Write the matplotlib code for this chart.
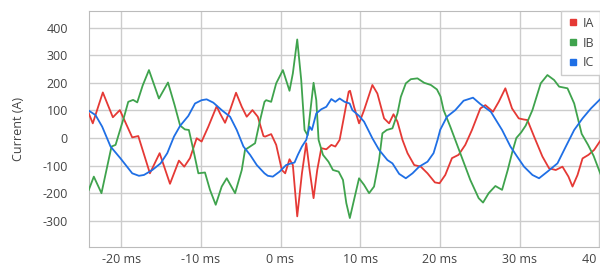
import numpy as np
import matplotlib
matplotlib.use("Agg")
import matplotlib.pyplot as plt
from matplotlib.lines import Line2D

plt.rcParams['font.family'] = ['Open Sans', 'DejaVu Sans']

# IA
t_a = [-24.06, -23.56, -22.30, -21.04, -20.16, -18.61, -17.85, -16.39, -15.17, -13.87,
       -12.75, -12.08, -11.36, -10.52, -9.90, -9.06, -8.01, -7.59, -6.96, -6.33,
       -5.58, -4.86, -4.24, -3.52, -2.85, -2.14, -1.93, -1.17, -0.54, 0.17,
       0.59, 1.13, 1.55, 2.10, 2.69, 3.23, 3.65, 4.15, 4.61, 5.12,
       5.75, 6.38, 6.88, 7.42, 7.97, 8.56, 8.73, 9.23, 9.86, 10.49,
       11.53, 12.16, 13.00, 13.63, 14.18, 14.68, 15.31, 15.94, 16.78, 17.61,
       18.45, 19.38, 19.96, 20.68, 21.52, 22.35, 23.19, 24.03, 25.08, 25.71,
       26.67, 27.39, 28.22, 29.06, 29.90, 30.53, 30.99, 31.83, 32.87, 33.71,
       34.55, 35.39, 36.14, 36.65, 37.28, 37.91, 38.66, 39.37, 40.21]
ia = [89, 53, 165, 75, 101, 2, 7, -128, -55, -166,
      -82, -104, -73, -1, -13, 41, 115, 89, 55, 101,
      164, 113, 77, 101, 77, 7, 5, 14, -25, -116,
      -128, -77, -98, -284, -128, -19, -116, -218, -116, -37,
      -41, -25, -31, -7, 77, 168, 171, 113, 53, 101,
      192, 161, 71, 53, 86, 59, -7, -55, -98, -104,
      -128, -161, -164, -134, -73, -61, -25, 29, 107, 119,
      95, 131, 180, 107, 71, 67, 65, 5, -67, -110,
      -116, -104, -140, -176, -134, -74, -61, -43, -7]

# IB
t_b = [-24.06, -23.43, -22.47, -21.21, -20.70, -19.60, -19.11, -18.50, -17.98, -17.30,
       -16.51, -15.26, -14.12, -13.30, -12.60, -12.00, -11.50, -10.94, -10.31, -9.48,
       -8.85, -8.13, -7.38, -6.75, -5.70, -4.86, -4.45, -3.82, -3.19, -2.56,
       -2.01, -1.80, -1.17, -0.54, 0.30, 1.13, 1.55, 2.10, 2.60, 3.02,
       3.40, 4.15, 4.49, 4.78, 5.33, 6.02, 6.58, 7.30, 7.84, 8.26,
       8.70, 9.23, 9.86, 10.49, 11.12, 11.74, 12.37, 12.79, 13.34, 14.05,
       14.68, 15.10, 15.73, 16.36, 17.19, 18.03, 18.87, 19.63, 20.09, 20.47,
       21.31, 22.56, 23.82, 24.87, 25.42, 26.13, 26.97, 27.81, 28.52, 29.10,
       29.60, 30.20, 30.78, 31.62, 32.66, 33.50, 34.34, 34.97, 36.02, 36.86,
       37.80, 38.60, 39.30, 40.21]
ib = [-188, -140, -200, -31, -25, 80, 131, 138, 129, 190,
      246, 143, 201, 120, 45, 31, 29, -43, -128, -125,
      -188, -242, -176, -146, -200, -116, -43, -31, -19, 65,
      131, 137, 131, 198, 246, 171, 234, 357, 210, 29,
      10, 200, 137, -7, -61, -86, -116, -122, -152, -236,
      -290, -224, -146, -170, -200, -176, -80, 17, 29, 35,
      89, 149, 198, 213, 216, 200, 192, 176, 150, 101,
      41, -55, -152, -218, -234, -200, -174, -188, -116, -50,
      0, 20, 45, 101, 198, 228, 210, 186, 180, 125,
      15, -25, -65, -134]

# IC
t_c = [-24.06, -23.22, -22.38, -21.33, -20.08, -18.61, -17.77, -17.14, -16.09, -15.05,
       -14.21, -13.37, -12.60, -11.57, -10.73, -9.90, -9.27, -8.43, -7.38, -6.33,
       -5.49, -4.65, -3.82, -2.98, -2.01, -1.59, -0.96, -0.12, 0.71, 1.34,
       1.76, 2.18, 2.69, 3.23, 3.65, 3.94, 4.49, 5.12, 5.75, 6.38,
       6.88, 7.42, 8.05, 8.68, 9.02, 9.86, 10.49, 11.53, 12.37, 13.42,
       14.05, 14.89, 15.73, 16.57, 17.40, 18.45, 19.21, 19.71, 20.05, 20.89,
       21.94, 22.98, 24.16, 25.08, 26.40, 27.81, 28.86, 29.69, 30.57, 31.62,
       32.45, 33.50, 34.76, 35.81, 36.86, 37.91, 38.96, 40.21]
ic = [99, 83, 41, -31, -74, -128, -137, -134, -116, -92,
      -55, 5, 44, 80, 125, 137, 140, 128, 101, 77,
      29, -31, -61, -98, -128, -137, -140, -122, -98, -92,
      -89, -61, -31, -7, 41, 29, 89, 104, 113, 141,
      131, 143, 131, 125, 101, 80, 59, -1, -43, -80,
      -92, -130, -146, -128, -104, -86, -55, -7, 30, 77,
      101, 135, 146, 123, 95, 29, -31, -67, -104, -134,
      -146, -122, -92, -31, 29, 71, 107, 143]

names = ["IA", "IB", "IC"]
colors = ["#e53935", "#3fa34d", "#1f6fe5"]
yticks = [-300, -200, -100, 0, 100, 200, 300, 400]
xticks = [-20, -10, 0, 10, 20, 30, 40]

fig = plt.figure(figsize=(6, 2.66), dpi=100)
ax = fig.add_axes([0.148, 0.0714, 0.852, 0.8872])

for tt, vv, c in zip([t_a, t_b, t_c], [ia, ib, ic], colors):
    ax.plot(tt, vv, color=c, lw=1.3, solid_joinstyle="round", zorder=3)

ax.set_xlim(-24.06, 40.1)
ax.set_ylim(-395, 460)
ax.set_yticks(yticks)
ax.set_yticklabels([str(v) for v in yticks])
ax.set_xticks(xticks)
ax.set_xticklabels([f"{v} ms" for v in xticks])
ax.tick_params(length=0, labelsize=9, colors="#444444")
ax.tick_params(axis="y", pad=15)
ax.tick_params(axis="x", pad=4)
ax.grid(True, color="#cccccc", lw=1)
ax.set_axisbelow(True)
for s in ["left", "bottom", "top"]:
    ax.spines[s].set_color("#bbbbbb")
ax.spines["right"].set_visible(False)
ax.set_ylabel("Current (A)", fontsize=9, color="#444444", labelpad=13)

handles = [Line2D([], [], marker="s", ls="none", color=c, markersize=5) for c in colors]
leg = ax.legend(handles, names, loc="upper right", bbox_to_anchor=(1.0, 1.0),
                fontsize=9, frameon=True, fancybox=False, framealpha=1,
                handletextpad=0.3, labelspacing=0.55, borderpad=0.45,
                handlelength=1.0, borderaxespad=0)
leg.get_frame().set_edgecolor("#cccccc")
leg.get_frame().set_linewidth(1)
for txt in leg.get_texts():
    txt.set_color("#444444")

plt.savefig("out.png", dpi=100)
